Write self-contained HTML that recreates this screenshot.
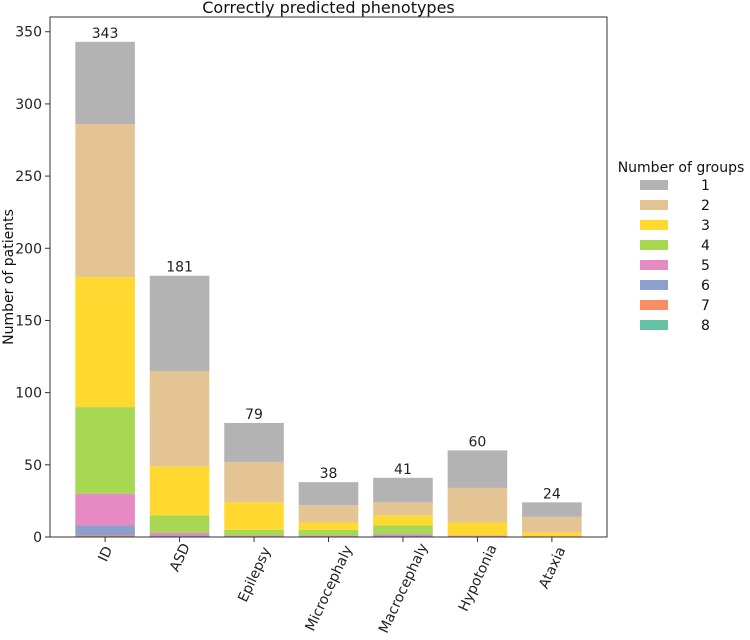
<!DOCTYPE html>
<html><head><meta charset="utf-8"><style>
body{margin:0;background:#fff;}
svg{font-family:"DejaVu Sans","Liberation Sans",sans-serif;}
</style></head><body>
<svg id="c" width="750" height="635"></svg>
<script>
const categories=["ID","ASD","Epilepsy","Microcephaly","Macrocephaly","Hypotonia","Ataxia"];
const groupLabels=["8","7","6","5","4","3","2","1"];
const g8=[0,0,0,0,0,0,0];
const g7=[1,0,0,0,0,0,0];
const g6=[7,1,0,0,1,0,0];
const g5=[22,2,1,1,1,1,0];
const g4=[60,12,4,4,6,0,0];
const g3=[90,34,19,5,7,9,3];
const g2=[106,66,28,12,9,24,11];
const g1=[57,66,27,16,17,26,10];
const totals=[343,181,79,38,41,60,24];
const yTicks=[0,50,100,150,200,250,300,350];
const series=[g8,g7,g6,g5,g4,g3,g2,g1];
const colors=["#66c2a5","#fc8d62","#8da0cb","#e78ac3","#a6d854","#ffd92f","#e5c494","#b3b3b3"];
const NS="http://www.w3.org/2000/svg";
const svg=document.getElementById('c');
const L=50,R=607,T=17,B=537;
const yMax=360.2;
function y(v){return B-(v/yMax)*(B-T);}
const xmin=-0.74,xmax=categories.length-1+0.74;
function x(i){return L+(i-xmin)/(xmax-xmin)*(R-L);}
const bw=0.8*(R-L)/(xmax-xmin);
function el(t,a,p){const e=document.createElementNS(NS,t);for(const k in a)e.setAttribute(k,a[k]);(p||svg).appendChild(e);return e;}
categories.forEach((c,i)=>{
  let base=0;
  series.forEach((s,k)=>{
    const v=s[i];
    if(v>0){
      const r=el('rect',{x:x(i)-bw/2,y:y(base+v),width:bw,height:y(base)-y(base+v),fill:colors[k]});
      
      
    }
    base+=v;
  });
  const t=el('text',{x:x(i),y:y(totals[i])-4,'text-anchor':'middle','font-size':14,fill:'#222'});
  t.textContent=totals[i];
  
  
  const tk=el('line',{x1:x(i),x2:x(i),y1:B,y2:B+5,stroke:'#333'});
  
  
  // label centred below tick, rotated; top end starts ~10px below axis
  const w=c.length*7.6;
  const lx=x(i), ly=B+10+w*0.45;
  const xl=el('text',{x:lx,y:ly,'text-anchor':'middle','font-size':14,fill:'#222',transform:`rotate(-65 ${lx} ${ly})`,dy:'0.35em'});
  xl.textContent=c;
  
  
});
yTicks.forEach(v=>{
  const tk=el('line',{x1:L-5,x2:L,y1:y(v),y2:y(v),stroke:'#333'});
  
  
  const t=el('text',{x:L-8,y:y(v)+5,'text-anchor':'end','font-size':14,fill:'#222'});
  t.textContent=v;
  
  
});
const frame=el('rect',{x:L,y:T,width:R-L,height:B-T,fill:'none',stroke:'#333','stroke-width':1});


const title=el('text',{x:(L+R)/2,y:13,'text-anchor':'middle','font-size':16,fill:'#111'});
title.textContent='Correctly predicted phenotypes';


const yl=el('text',{x:13,y:277,'text-anchor':'middle','font-size':14,fill:'#111',transform:'rotate(-90 13 277)'});
yl.textContent='Number of patients';


const lg=el('g',{});


const lt=el('text',{x:681,y:172,'text-anchor':'middle','font-size':14,fill:'#111'},lg);
lt.textContent='Number of groups';


for(let j=0;j<8;j++){
  const k=7-j;
  const yy=186+j*20;
  const r=el('rect',{x:640,y:yy-6,width:28,height:10,fill:colors[k]},lg);
  
  
  const t=el('text',{x:701,y:yy+4,'font-size':14,fill:'#111'},lg);
  t.textContent=groupLabels[k];
  
  
}
</script>
</body></html>
